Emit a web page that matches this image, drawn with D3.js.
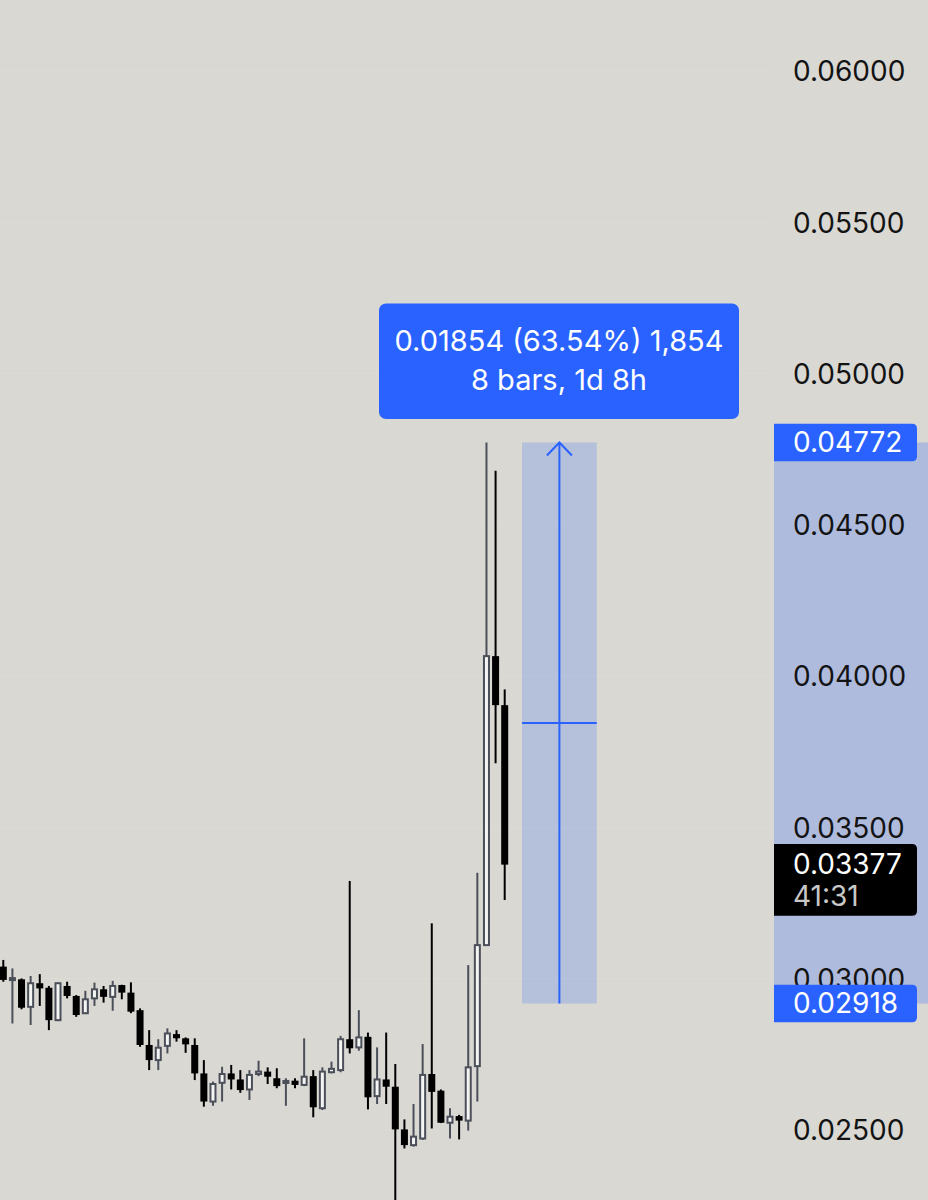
<!DOCTYPE html>
<html><head><meta charset="utf-8">
<script src="https://cdn.jsdelivr.net/npm/d3@7"></script>
<style>html,body{margin:0;padding:0;background:#d9d8d3}svg{display:block}</style>
</head><body>
<script>
// ---- data ----
const opens  = [0.03040,0.02996,0.02998,0.02907,0.02985,0.02970,0.02863,0.02976,0.02943,0.02886,
                0.02935,0.02965,0.02940,0.02979,0.02954,0.02896,0.02781,0.02731,0.02778,0.02817,
                0.02803,0.02781,0.02687,0.02594,0.02656,0.02687,0.02667,0.02634,0.02685,0.02693,
                0.02671,0.02656,0.02663,0.02649,0.02678,0.02572,0.02691,0.02698,0.02800,0.02773,
                0.02808,0.02612,0.02667,0.02643,0.02502,0.02450,0.02472,0.02685,0.02630,0.02524,
                0.02546,0.02531,0.02711,0.03111,0.04066,0.03904];
const highs  = [0.03062,0.03034,0.03001,0.03009,0.03015,0.02976,0.02987,0.02990,0.02946,0.02960,
                0.02987,0.02976,0.02993,0.02980,0.02988,0.02902,0.02830,0.02800,0.02836,0.02830,
                0.02806,0.02803,0.02731,0.02660,0.02709,0.02715,0.02698,0.02698,0.02729,0.02707,
                0.02704,0.02671,0.02671,0.02803,0.02698,0.02707,0.02726,0.02811,0.03323,0.02896,
                0.02822,0.02773,0.02822,0.02718,0.02535,0.02586,0.02784,0.03183,0.02634,0.02572,
                0.02550,0.03045,0.03350,0.04772,0.04679,0.03956];
const lows   = [0.02990,0.02852,0.02899,0.02847,0.02910,0.02830,0.02860,0.02935,0.02874,0.02883,
                0.02910,0.02921,0.02894,0.02932,0.02886,0.02775,0.02698,0.02698,0.02753,0.02792,
                0.02755,0.02665,0.02577,0.02580,0.02594,0.02634,0.02623,0.02599,0.02678,0.02652,
                0.02638,0.02580,0.02638,0.02645,0.02542,0.02566,0.02687,0.02691,0.02753,0.02762,
                0.02568,0.02586,0.02586,0.02250,0.02439,0.02445,0.02467,0.02505,0.02523,0.02472,
                0.02469,0.02498,0.02594,0.03108,0.03712,0.03260];
const closes = [0.02996,0.03002,0.02904,0.02985,0.02968,0.02863,0.02985,0.02943,0.02880,0.02932,
                0.02965,0.02940,0.02976,0.02954,0.02891,0.02781,0.02731,0.02772,0.02819,0.02803,
                0.02783,0.02687,0.02594,0.02652,0.02685,0.02667,0.02632,0.02682,0.02693,0.02676,
                0.02645,0.02662,0.02649,0.02676,0.02575,0.02693,0.02702,0.02800,0.02770,0.02806,
                0.02608,0.02667,0.02643,0.02502,0.02450,0.02478,0.02682,0.02626,0.02524,0.02544,
                0.02531,0.02707,0.03111,0.04066,0.03904,0.03377];
const tickValues = [0.060,0.055,0.050,0.045,0.040,0.035,0.030,0.025];
const measureStart = 56.9, measureBars = 8;
const measureLow = 0.02918, measureHigh = 0.04772;
const measureTime = "1d 8h";
const lastPrice = 0.03377, countdown = "41:31";

// ---- layout ----
const W = 928, H = 1200;
const svg = d3.select("body").append("svg").attr("width", W).attr("height", H);
svg.append("rect").attr("width", W).attr("height", H).attr("fill", "#d9d8d3");

const x = d3.scaleLinear().domain([0, 55]).range([3.3, 504.7]);
const y = d3.scaleLinear().domain([0.06, 0.025]).range([70.9, 1130.0]);
const FONT = "Inter, 'Noto Sans', sans-serif";

// faint grid
svg.append("g").selectAll("line").data(tickValues).join("line")
  .attr("x1", 0).attr("x2", 774).attr("y1", d => y(d)).attr("y2", d => y(d))
  .attr("stroke", "#ffffff").attr("stroke-opacity", 0.1).attr("stroke-width", 1);

// candles
const candles = opens.map((o, i) => ({i, o, h: highs[i], l: lows[i], c: closes[i]}));
const up = d => d.c >= d.o;
const GREY = "#4b4f5a";
const bw = 7;
const cg = svg.append("g");
cg.selectAll("line.wick").data(candles).join("line").attr("class", "wick")
  .attr("x1", d => x(d.i)).attr("x2", d => x(d.i))
  .attr("y1", d => y(d.h)).attr("y2", d => y(d.l))
  .attr("stroke", d => up(d) ? GREY : "#000").attr("stroke-width", 2);
cg.selectAll("rect.body").data(candles).join("rect").attr("class", "body")
  .attr("x", d => x(d.i) - bw / 2 + (up(d) ? 1 : 0))
  .attr("width", d => up(d) ? bw - 2 : bw)
  .attr("y", d => y(Math.max(d.o, d.c)))
  .attr("height", d => Math.max(2, Math.abs(y(d.o) - y(d.c))))
  .attr("fill", d => up(d) ? "#f4f4f2" : "#000")
  .attr("stroke", d => up(d) ? GREY : "none")
  .attr("stroke-width", 2);

// measurement box
const mx0 = x(measureStart), mx1 = x(measureStart + measureBars + 0.2);
const mxc = (mx0 + mx1) / 2;
const BLUE = "#2962ff";
svg.append("rect").attr("x", mx0).attr("y", y(measureHigh))
  .attr("width", mx1 - mx0).attr("height", y(measureLow) - y(measureHigh))
  .attr("fill", BLUE).attr("fill-opacity", 0.2);
svg.append("line").attr("x1", mxc).attr("x2", mxc)
  .attr("y1", y(measureLow)).attr("y2", y(measureHigh))
  .attr("stroke", BLUE).attr("stroke-width", 2);
svg.append("line").attr("x1", mx0).attr("x2", mx1)
  .attr("y1", y((measureLow + measureHigh) / 2)).attr("y2", y((measureLow + measureHigh) / 2))
  .attr("stroke", BLUE).attr("stroke-width", 2);
svg.append("path")
  .attr("d", `M${mxc - 12.5},${y(measureHigh) + 13} L${mxc},${y(measureHigh)} L${mxc + 12.5},${y(measureHigh) + 13}`)
  .attr("fill", "none").attr("stroke", BLUE).attr("stroke-width", 2);

// price-axis band
svg.append("rect").attr("x", 774).attr("y", y(measureHigh))
  .attr("width", W - 774).attr("height", y(measureLow) - y(measureHigh))
  .attr("fill", BLUE).attr("fill-opacity", 0.24);

// axis
const axis = d3.axisRight(y).tickValues(tickValues).tickSize(0).tickPadding(0)
  .tickFormat(d3.format(".5f"));
const ag = svg.append("g").attr("transform", "translate(793,0)").call(axis);
ag.select(".domain").remove();
ag.selectAll("text").attr("font-family", FONT).attr("font-size", 28)
  .attr("fill", "#131313").attr("dy", "0.35em");

// axis label boxes
function roundRight(x0, y0, w, h, r) {
  return `M${x0},${y0} H${x0 + w - r} Q${x0 + w},${y0} ${x0 + w},${y0 + r} V${y0 + h - r} Q${x0 + w},${y0 + h} ${x0 + w - r},${y0 + h} H${x0} Z`;
}
function priceBox(v, fill) {
  const cy = y(v);
  const g = svg.append("g");
  g.append("path").attr("d", roundRight(774, cy - 18.7, 143, 37.4, 5)).attr("fill", fill);
  g.append("text").attr("x", 793).attr("y", cy).attr("dy", "0.35em")
    .attr("font-family", FONT).attr("font-size", 28).attr("fill", "#fff")
    .text(d3.format(".5f")(v));
}
priceBox(measureHigh, BLUE);
priceBox(measureLow, BLUE);
// last price box
{
  const cy = y(lastPrice);
  svg.append("path").attr("d", roundRight(774, cy - 20.5, 143, 71.6, 5)).attr("fill", "#000");
  svg.append("text").attr("x", 793).attr("y", cy).attr("dy", "0.35em")
    .attr("font-family", FONT).attr("font-size", 28).attr("fill", "#fff")
    .text(d3.format(".5f")(lastPrice));
  svg.append("text").attr("x", 793).attr("y", cy + 32).attr("dy", "0.35em")
    .attr("font-family", FONT).attr("font-size", 28).attr("fill", "#c8c8c8")
    .text(countdown);
}

// tooltip
{
  const diff = measureHigh - measureLow;
  const pct = diff / measureLow * 100;
  const ticksN = Math.round(diff * 100000);
  const line1 = `${d3.format(".5f")(diff)} (${d3.format(".2f")(pct)}%) ${d3.format(",")(ticksN)}`;
  const line2 = `${measureBars} bars, ${measureTime}`;
  const tx0 = 379, tx1 = 739, ty0 = 303.5, ty1 = 419;
  svg.append("rect").attr("x", tx0).attr("y", ty0).attr("width", tx1 - tx0).attr("height", ty1 - ty0)
    .attr("rx", 7).attr("fill", BLUE);
  const tcx = (tx0 + tx1) / 2;
  svg.append("text").attr("x", tcx).attr("y", 340.5).attr("dy", "0.35em").attr("text-anchor", "middle")
    .attr("font-family", FONT).attr("font-size", 29).attr("fill", "#fff").text(line1);
  svg.append("text").attr("x", tcx).attr("y", 380).attr("dy", "0.35em").attr("text-anchor", "middle")
    .attr("font-family", FONT).attr("font-size", 29).attr("fill", "#fff").text(line2);
}
</script>
</body></html>
